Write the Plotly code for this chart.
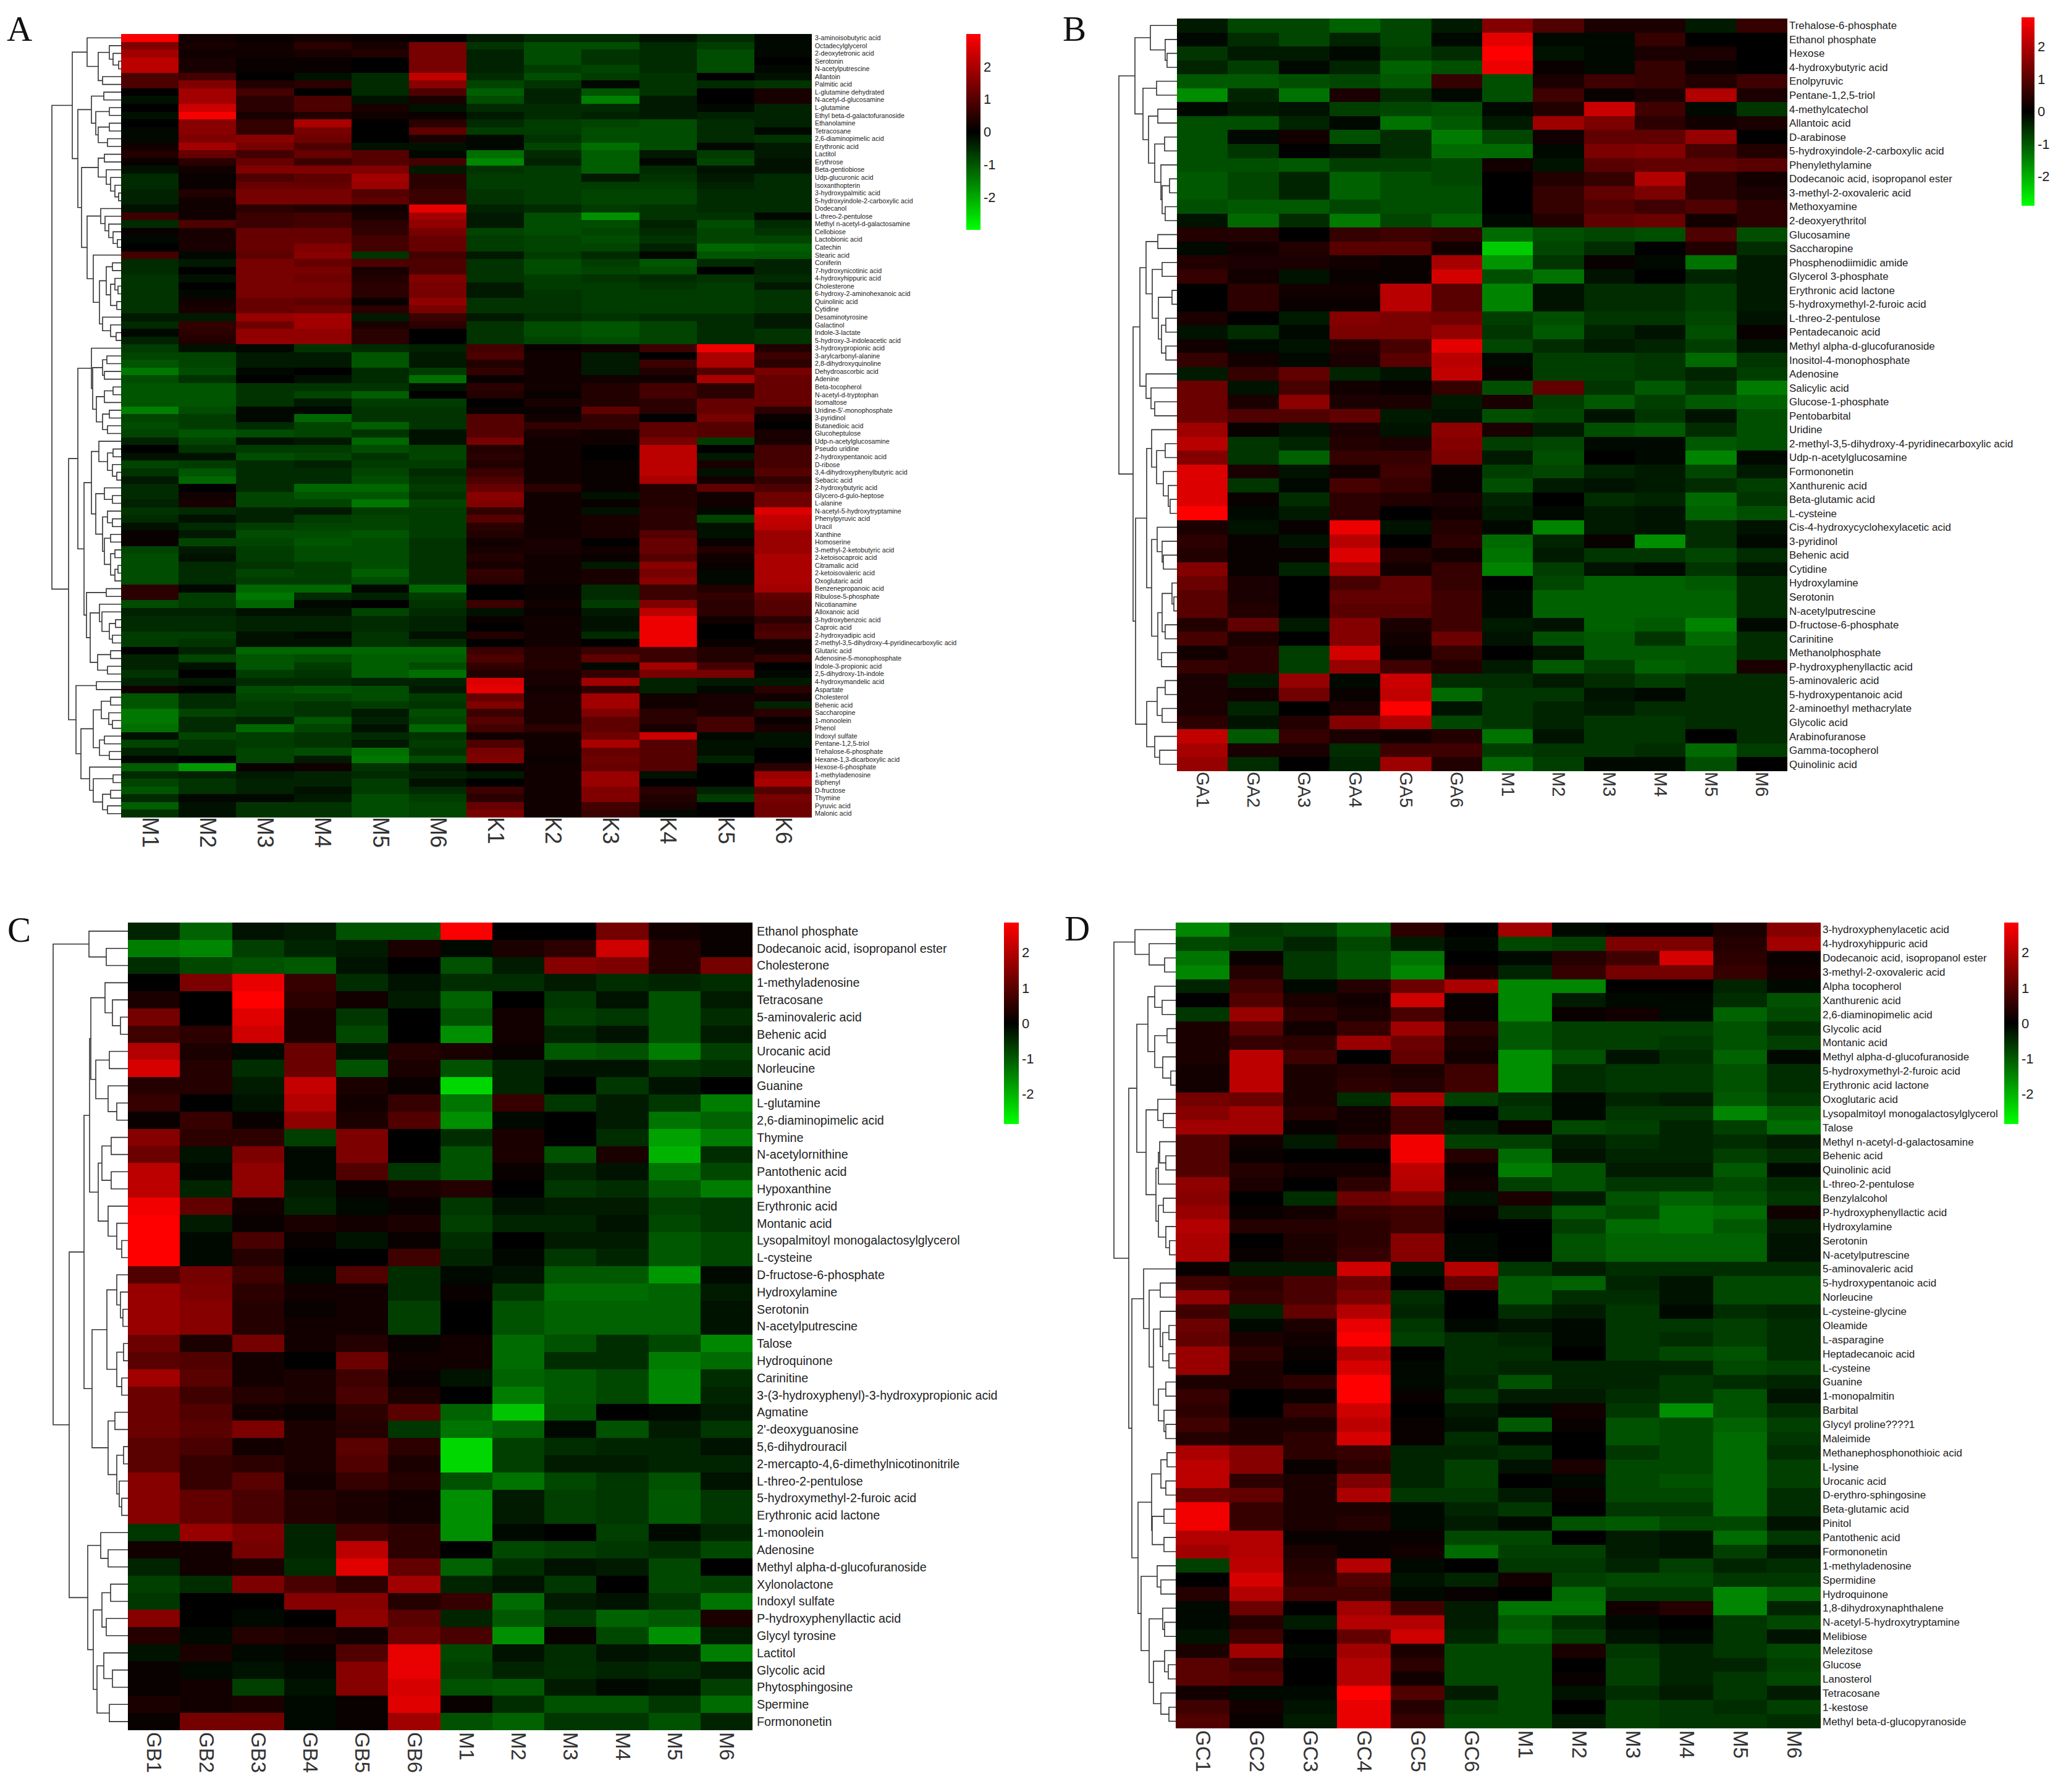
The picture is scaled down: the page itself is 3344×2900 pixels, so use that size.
import plotly.graph_objects as go

# browser body margin is 8px, so the figure is 16px smaller than the window
PAGE_W, PAGE_H = 3344, 2900
PAD = 8
W, H = PAGE_W - 2 * PAD, PAGE_H - 2 * PAD

cols_a = ["M1", "M2", "M3", "M4", "M5", "M6", "K1", "K2", "K3", "K4", "K5", "K6"]
cols_b = ["GA1", "GA2", "GA3", "GA4", "GA5", "GA6", "M1", "M2", "M3", "M4", "M5", "M6"]
cols_c = ["GB1", "GB2", "GB3", "GB4", "GB5", "GB6", "M1", "M2", "M3", "M4", "M5", "M6"]
cols_d = ["GC1", "GC2", "GC3", "GC4", "GC5", "GC6", "M1", "M2", "M3", "M4", "M5", "M6"]

labels_a = ["3-aminoisobutyric acid", "Octadecylglycerol", "2-deoxytetronic acid", "Serotonin", "N-acetylputrescine",
    "Allantoin", "Palmitic acid", "L-glutamine dehydrated", "N-acetyl-d-glucosamine", "L-glutamine",
    "Ethyl beta-d-galactofuranoside", "Ethanolamine", "Tetracosane", "2,6-diaminopimelic acid", "Erythronic acid",
    "Lactitol", "Erythrose", "Beta-gentiobiose", "Udp-glucuronic acid", "Isoxanthopterin", "3-hydroxypalmitic acid",
    "5-hydroxyindole-2-carboxylic acid", "Dodecanol", "L-threo-2-pentulose", "Methyl n-acetyl-d-galactosamine",
    "Cellobiose", "Lactobionic acid", "Catechin", "Stearic acid", "Coniferin", "7-hydroxynicotinic acid",
    "4-hydroxyhippuric acid", "Cholesterone", "6-hydroxy-2-aminohexanoic acid", "Quinolinic acid", "Cytidine",
    "Desaminotyrosine", "Galactinol", "Indole-3-lactate", "5-hydroxy-3-indoleacetic acid", "3-hydroxypropionic acid",
    "3-arylcarbonyl-alanine", "2,8-dihydroxyquinoline", "Dehydroascorbic acid", "Adenine", "Beta-tocopherol",
    "N-acetyl-d-tryptophan", "Isomaltose", "Uridine-5'-monophosphate", "3-pyridinol", "Butanedioic acid",
    "Glucoheptulose", "Udp-n-acetylglucosamine", "Pseudo uridine", "2-hydroxypentanoic acid", "D-ribose",
    "3,4-dihydroxyphenylbutyric acid", "Sebacic acid", "2-hydroxybutyric acid", "Glycero-d-gulo-heptose", "L-alanine",
    "N-acetyl-5-hydroxytryptamine", "Phenylpyruvic acid", "Uracil", "Xanthine", "Homoserine",
    "3-methyl-2-ketobutyric acid", "2-ketoisocaproic acid", "Citramalic acid", "2-ketoisovaleric acid",
    "Oxoglutaric acid", "Benzenepropanoic acid", "Ribulose-5-phosphate", "Nicotianamine", "Alloxanoic acid",
    "3-hydroxybenzoic acid", "Caproic acid", "2-hydroxyadipic acid", "2-methyl-3,5-dihydroxy-4-pyridinecarboxylic acid",
    "Glutaric acid", "Adenosine-5-monophosphate", "Indole-3-propionic acid", "2,5-dihydroxy-1h-indole",
    "4-hydroxymandelic acid", "Aspartate", "Cholesterol", "Behenic acid", "Saccharopine", "1-monoolein", "Phenol",
    "Indoxyl sulfate", "Pentane-1,2,5-triol", "Trehalose-6-phosphate", "Hexane-1,3-dicarboxylic acid",
    "Hexose-6-phosphate", "1-methyladenosine", "Biphenyl", "D-fructose", "Thymine", "Pyruvic acid", "Malonic acid"]

labels_b = ["Trehalose-6-phosphate", "Ethanol phosphate", "Hexose", "4-hydroxybutyric acid", "Enolpyruvic",
    "Pentane-1,2,5-triol", "4-methylcatechol", "Allantoic acid", "D-arabinose", "5-hydroxyindole-2-carboxylic acid",
    "Phenylethylamine", "Dodecanoic acid, isopropanol ester", "3-methyl-2-oxovaleric acid", "Methoxyamine",
    "2-deoxyerythritol", "Glucosamine", "Saccharopine", "Phosphenodiimidic amide", "Glycerol 3-phosphate",
    "Erythronic acid lactone", "5-hydroxymethyl-2-furoic acid", "L-threo-2-pentulose", "Pentadecanoic acid",
    "Methyl alpha-d-glucofuranoside", "Inositol-4-monophosphate", "Adenosine", "Salicylic acid", "Glucose-1-phosphate",
    "Pentobarbital", "Uridine", "2-methyl-3,5-dihydroxy-4-pyridinecarboxylic acid", "Udp-n-acetylglucosamine",
    "Formononetin", "Xanthurenic acid", "Beta-glutamic acid", "L-cysteine", "Cis-4-hydroxycyclohexylacetic acid",
    "3-pyridinol", "Behenic acid", "Cytidine", "Hydroxylamine", "Serotonin", "N-acetylputrescine",
    "D-fructose-6-phosphate", "Carinitine", "Methanolphosphate", "P-hydroxyphenyllactic acid", "5-aminovaleric acid",
    "5-hydroxypentanoic acid", "2-aminoethyl methacrylate", "Glycolic acid", "Arabinofuranose", "Gamma-tocopherol",
    "Quinolinic acid"]

labels_c = ["Ethanol phosphate", "Dodecanoic acid, isopropanol ester", "Cholesterone", "1-methyladenosine", "Tetracosane",
    "5-aminovaleric acid", "Behenic acid", "Urocanic acid", "Norleucine", "Guanine", "L-glutamine",
    "2,6-diaminopimelic acid", "Thymine", "N-acetylornithine", "Pantothenic acid", "Hypoxanthine", "Erythronic acid",
    "Montanic acid", "Lysopalmitoyl monogalactosylglycerol", "L-cysteine", "D-fructose-6-phosphate", "Hydroxylamine",
    "Serotonin", "N-acetylputrescine", "Talose", "Hydroquinone", "Carinitine",
    "3-(3-hydroxyphenyl)-3-hydroxypropionic acid", "Agmatine", "2'-deoxyguanosine", "5,6-dihydrouracil",
    "2-mercapto-4,6-dimethylnicotinonitrile", "L-threo-2-pentulose", "5-hydroxymethyl-2-furoic acid",
    "Erythronic acid lactone", "1-monoolein", "Adenosine", "Methyl alpha-d-glucofuranoside", "Xylonolactone",
    "Indoxyl sulfate", "P-hydroxyphenyllactic acid", "Glycyl tyrosine", "Lactitol", "Glycolic acid", "Phytosphingosine",
    "Spermine", "Formononetin"]

labels_d = ["3-hydroxyphenylacetic acid", "4-hydroxyhippuric acid", "Dodecanoic acid, isopropanol ester",
    "3-methyl-2-oxovaleric acid", "Alpha tocopherol", "Xanthurenic acid", "2,6-diaminopimelic acid", "Glycolic acid",
    "Montanic acid", "Methyl alpha-d-glucofuranoside", "5-hydroxymethyl-2-furoic acid", "Erythronic acid lactone",
    "Oxoglutaric acid", "Lysopalmitoyl monogalactosylglycerol", "Talose", "Methyl n-acetyl-d-galactosamine",
    "Behenic acid", "Quinolinic acid", "L-threo-2-pentulose", "Benzylalcohol", "P-hydroxyphenyllactic acid",
    "Hydroxylamine", "Serotonin", "N-acetylputrescine", "5-aminovaleric acid", "5-hydroxypentanoic acid", "Norleucine",
    "L-cysteine-glycine", "Oleamide", "L-asparagine", "Heptadecanoic acid", "L-cysteine", "Guanine", "1-monopalmitin",
    "Barbital", "Glycyl proline????1", "Maleimide", "Methanephosphonothioic acid", "L-lysine", "Urocanic acid",
    "D-erythro-sphingosine", "Beta-glutamic acid", "Pinitol", "Pantothenic acid", "Formononetin", "1-methyladenosine",
    "Spermidine", "Hydroquinone", "1,8-dihydroxynaphthalene", "N-acetyl-5-hydroxytryptamine", "Melibiose", "Melezitose",
    "Glucose", "Lanosterol", "Tetracosane", "1-kestose", "Methyl beta-d-glucopyranoside"]

# cell values in tenths of the colour scale, read row by row
values_a = [
[29,2,1,2,1,0,-3,-5,-5,-2,-5,-1],[15,3,2,5,3,14,-6,-9,-9,-5,-7,-1],[19,2,2,3,4,14,-4,-9,-6,-5,-9,-1],
[22,3,1,1,0,14,-4,-9,-6,-5,-9,0],[22,3,1,1,0,14,-4,-7,-8,-5,-9,-1],[9,8,0,-2,-5,23,-5,-9,-7,-6,0,-2],
[9,15,4,5,-5,16,-8,-6,-1,-6,-5,-6],[0,19,8,0,-5,9,-11,-4,-10,-6,0,3],[-2,19,5,9,-2,3,-9,-4,-15,-3,0,3],
[0,24,5,9,3,-2,-5,-5,-5,-3,-1,-4],[-2,29,3,4,2,1,-3,-5,-4,-3,-4,-4],[0,16,6,20,0,5,-5,-7,-8,-9,-5,-4],
[-1,16,6,14,0,11,-7,-7,-9,-9,-5,-1],[-1,15,16,13,0,3,-1,-6,-9,-9,-5,-6],[2,19,14,9,-2,-2,-1,-8,-13,-9,-1,-3],
[4,12,8,12,10,-1,-13,-5,-11,-3,-7,-3],[1,5,12,7,10,8,-16,-4,-11,-1,-8,-2],[-2,2,15,15,15,-3,-6,-7,-11,-5,-2,-2],
[-5,1,9,11,19,5,-7,-7,-3,-6,-3,-5],[-5,1,12,12,18,5,-7,-7,-7,-7,-4,-5],[-4,4,14,14,10,7,-6,-7,-8,-8,-5,-5],
[-4,2,14,14,11,7,-6,-7,-8,-8,-5,-5],[-2,2,5,4,2,27,-4,-5,-7,-6,-5,-5],[7,2,7,8,3,19,-3,-9,-17,-6,-6,-1],
[-5,9,7,8,5,17,-3,-9,-9,-4,-9,-5],[1,3,12,12,6,14,-8,-9,-8,-5,-8,-6],[-1,3,12,12,8,12,-7,-8,-9,-6,-8,-8],
[0,3,12,15,8,12,-7,-8,-8,-4,-12,-11],[8,-1,11,16,-6,8,-3,-7,-5,-1,-10,-10],[-5,-3,14,12,9,9,-6,-9,-7,-10,-5,-4],
[-5,0,14,14,3,9,-6,-9,-8,-9,0,-4],[-6,-2,14,13,4,15,-6,-7,-6,-5,-6,-5],[-6,0,14,14,5,14,-3,-7,-7,-6,-7,-3],
[-6,-1,14,14,5,14,-3,-6,-7,-7,-7,-6],[-6,2,12,11,1,17,-6,-6,-7,-7,-7,-6],[-6,3,12,13,5,14,-6,-6,-7,-7,-7,-6],
[-3,-3,18,19,-3,7,-3,-5,-6,-5,-5,-3],[-5,6,13,19,3,5,-6,-9,-10,-8,-5,-3],[-1,5,17,17,5,0,-6,-9,-10,-8,-5,-6],
[-4,4,17,17,5,0,-6,-8,-9,-8,-5,-6],[-7,-2,-1,-6,-5,-4,8,1,2,7,28,4],[-8,-8,-3,-3,-10,-3,9,2,-3,0,20,7],
[-10,-8,-3,-3,-10,-3,4,2,-3,7,20,5],[-14,-9,-1,0,-5,-7,6,2,-3,4,10,14],[-9,-6,0,-2,-5,-13,1,2,2,2,20,12],
[-10,-10,-6,-6,-6,-2,5,2,4,8,5,12],[-10,-10,-6,-8,-11,0,4,1,4,8,5,12],[-10,-10,-6,-3,-7,-7,0,3,4,5,12,12],
[-15,-9,-1,-1,-6,-6,1,1,11,5,12,5],[-8,-7,-1,-12,-6,-6,10,2,6,0,14,1],[-9,-7,-5,-8,-11,-6,10,6,6,11,10,0],
[-8,-10,-9,-8,-6,-2,10,3,2,11,10,3],[-4,-8,-2,-3,-12,-2,14,2,2,14,-7,3],[0,-6,-7,-7,-9,-8,4,2,0,22,0,8],
[-2,-2,-9,-8,-6,-8,5,2,0,22,-3,8],[-8,-7,-5,-4,-7,-7,4,2,1,22,3,8],[-6,-10,-5,-5,-8,-5,7,2,1,22,-2,10],
[-3,-12,-5,-5,-9,-6,9,2,1,20,2,6],[-5,0,-5,-12,-12,-7,12,5,1,4,11,9],[-5,2,-8,-10,-10,-6,16,2,-2,4,2,13],
[-4,3,-8,-8,-14,-8,15,2,1,4,2,13],[-6,-5,-4,-3,-7,-7,6,2,-2,5,-1,26],[-5,-2,-4,-7,-8,-7,10,2,3,5,-8,23],
[-2,-5,-7,-8,-8,-7,5,2,3,5,-2,22],[1,-3,-9,-9,-10,-7,4,2,3,10,-2,18],[1,-8,-8,-10,-9,-6,2,3,0,12,1,18],
[-8,-3,-7,-9,-9,-6,3,3,2,12,4,18],[-9,-2,-7,-9,-9,-6,4,2,1,10,2,20],[-9,-5,-6,-7,-9,-6,3,2,-3,16,1,20],
[-9,-5,-8,-7,-11,-6,6,2,3,14,-1,20],[-9,-5,-7,-7,-9,-6,5,2,3,16,-1,20],[5,-1,-12,-12,-1,-12,0,1,-5,7,4,19],
[5,-7,-14,-5,-4,-7,0,1,-5,7,6,11],[-9,-7,-12,-1,0,-6,7,2,-7,15,5,10],[-4,-4,-2,-2,-8,-5,-2,1,-3,22,5,10],
[-5,-5,-4,-4,-5,-4,1,2,-2,28,2,5],[-5,-5,-4,-4,-5,-4,0,2,-2,28,0,8],[-7,-7,-2,-1,-6,-2,4,2,-5,28,0,9],
[-7,-6,-2,-2,-6,-5,0,2,0,28,1,2],[0,-4,-12,-12,-12,-12,7,4,7,7,4,2],[-4,-8,-10,-9,-11,-11,9,4,11,7,4,6],
[-4,-2,-10,-7,-11,-9,6,4,-1,19,8,0],[-6,0,-7,-6,-11,-13,4,3,6,14,14,-1],[-4,-3,-5,-5,-4,-4,26,3,19,-4,-3,-3],
[2,0,-9,-10,-9,-3,27,2,5,-4,-1,5],[-10,-5,-8,-8,-9,-7,12,3,19,2,3,2],[-10,-5,-7,-6,-7,-6,15,3,19,2,3,-4],
[-14,-8,-7,-6,-3,-9,7,3,15,5,3,5],[-14,-5,-4,-10,-4,-8,10,3,11,5,8,1],[-13,-5,-12,-8,-2,-12,8,5,11,3,8,3],
[-2,-8,-7,-6,-5,-6,2,2,13,24,-1,-2],[-8,-6,-7,-6,-3,-7,9,2,20,10,-2,-2],[-4,-6,-8,-9,-13,-6,14,2,12,10,-2,0],
[-1,0,-8,-3,-14,-9,15,1,13,10,-4,0],[-11,-18,1,2,-6,-3,1,2,12,10,0,5],[-5,-4,-3,-4,-5,-4,-3,2,18,-2,0,18],
[-8,-6,-4,-4,-7,-2,0,2,18,0,0,20],[-10,-6,-4,-2,-7,-5,7,2,15,5,-4,10],[-5,-1,-1,-3,-9,-7,5,2,15,4,-7,14],
[-11,-2,-6,-6,-9,-8,12,2,8,3,0,13],[-6,-2,-6,-6,-9,-8,14,2,7,-1,0,13]]

values_b = [
[-3,-8,-8,-11,-8,-3,15,9,3,3,-3,6],[-1,-5,-8,-4,-8,-1,26,-1,-1,6,0,0],[-6,-3,-3,-1,-7,-5,29,-2,-1,3,3,0],
[-4,-7,-1,-4,-11,-9,27,1,-1,6,1,0],[-10,-10,-9,-8,-10,6,-9,3,7,6,4,7],[-16,-4,-13,3,-5,-1,-9,7,1,3,20,3],
[-1,-3,-2,-7,-8,-9,-1,4,23,7,-1,-6],[-9,-9,-4,-1,-13,-10,-3,18,14,5,2,3],[-9,-1,2,-9,-5,-14,-8,2,11,11,17,0],
[-9,-6,0,-2,-5,-12,-12,-1,14,15,8,4],[-9,-9,-10,-7,-7,-8,2,-2,10,11,11,10],[-10,-8,-4,-11,-9,-8,0,4,6,20,5,2],
[-10,-8,-4,-11,-9,-9,0,6,11,14,5,3],[-9,-10,-10,-8,-9,-9,0,6,9,7,9,5],[-2,-12,-5,-14,-8,-11,-1,4,11,12,2,5],
[4,4,0,6,7,6,-12,-9,-8,-9,9,-9],[-1,2,4,10,10,2,-23,-8,-5,0,4,-5],[4,3,3,2,1,19,-17,-6,1,-1,-13,-3],
[6,2,-2,1,1,24,-9,-13,-2,0,-4,-3],[0,5,2,2,21,10,-15,-2,-5,-5,-7,-3],[0,5,1,1,21,10,-15,-2,-5,-5,-7,-3],
[3,0,-3,15,14,13,-7,-9,-6,-6,-8,-2],[-2,-5,-1,14,14,17,-6,-10,-4,-2,-9,1],[2,-1,-2,4,8,26,-8,-5,-3,-4,-7,-2],
[6,2,-1,3,10,21,-1,-7,-7,-6,-12,-6],[-3,6,11,-4,-2,22,1,-7,-7,-6,-4,-7],[12,-2,8,2,1,6,-9,11,-6,-10,-6,-14],
[12,3,16,3,3,-3,3,-7,-10,-7,-10,-11],[12,9,9,11,-3,-2,-9,-8,-2,-6,-2,-9],[18,1,-2,3,-2,16,3,-3,-9,-10,-5,-9],
[21,-6,-4,4,3,15,-7,-8,-1,-1,-10,-9],[15,-6,-11,6,6,14,-3,-9,0,-1,-15,-1],[25,3,-2,2,7,1,-7,-8,-4,-3,-8,-3],
[25,-6,-1,8,6,1,-9,-3,-2,-3,-5,-7],[25,1,-5,5,4,3,-4,0,-5,-4,-12,-6],[29,-1,-3,5,0,2,-3,-1,-3,-2,-11,-9],
[3,-2,1,27,-2,4,-1,-15,-3,-2,-5,-2],[5,1,-2,21,0,5,-12,-4,1,-16,-5,-1],[4,1,1,25,4,2,-13,-3,-6,-6,-8,-5],
[15,1,-4,19,2,6,-15,-7,-2,-1,-6,-2],[12,3,0,8,11,6,0,-8,-11,-11,-10,-5],[10,3,0,11,11,7,-1,-11,-11,-11,-11,-5],
[10,4,0,10,10,7,-1,-11,-11,-11,-11,-5],[4,11,-3,15,3,7,-3,-2,-11,-10,-15,-1],[8,3,0,15,2,12,-2,-9,-10,-6,-12,-5],
[2,5,-7,24,1,6,0,-2,-10,-10,-10,-5],[6,5,-7,17,7,4,-3,-10,-7,-11,-10,3],[3,-3,17,-1,23,-5,-5,-3,-5,-7,-5,-5],
[3,2,13,1,22,-12,-6,-6,-2,-1,-5,-5],[3,-4,0,3,29,-2,-6,-4,-3,-5,-5,-5],[5,-2,4,15,20,-8,-6,-4,-6,-6,-5,-5],
[22,-10,6,3,2,4,-13,-2,-6,-6,0,-5],[19,3,3,-5,7,7,-7,-6,-6,-5,-12,-7],[17,-5,0,-4,18,4,-12,-7,-1,-1,-9,0]]

values_c = [
[-4,-11,-2,-3,-9,-9,28,0,0,13,2,1],[-14,-15,-7,-4,-3,3,-1,3,5,23,4,1],[-5,-8,-9,-10,-2,0,-9,-3,15,14,4,13],
[0,14,26,6,-5,-2,-5,-5,-3,-5,-4,-5],[3,0,29,5,2,-3,-11,0,-6,-2,-9,-3],[13,0,25,3,-6,0,-9,2,-7,-6,-9,-5],
[7,5,23,3,-8,0,-16,2,-4,-2,-9,-3],[20,3,-1,12,-2,4,3,1,-10,-9,-14,-7],[24,4,-5,12,-9,3,-9,-4,-2,-2,-6,-5],
[4,4,-3,22,3,1,-24,-4,0,-6,-2,0],[6,0,-2,20,2,6,-13,6,-6,-3,-6,-14],[1,6,1,16,3,9,-16,-1,0,-3,-13,-11],
[15,5,5,-7,14,0,-5,3,0,-5,-18,-14],[12,-2,14,-1,14,0,-9,3,-9,3,-20,-5],[21,-1,16,-1,9,-6,-9,1,-4,-2,-13,-8],
[21,-4,16,-3,1,3,4,0,-6,-5,-10,-14],[27,11,2,-4,-1,1,-6,-2,-3,-3,-7,-6],[29,-3,1,3,2,3,-7,-4,-4,-2,-8,-6],
[29,-1,8,1,-2,1,-5,0,-3,-3,-10,-8],[29,-1,4,0,0,7,-4,-1,-6,-4,-10,-8],[9,13,7,-1,9,-5,-1,-2,-10,-10,-17,-1],
[17,14,5,2,2,-5,1,-6,-12,-12,-11,-3],[17,15,4,1,2,-7,0,-9,-11,-11,-11,-2],[17,15,4,2,2,-7,0,-9,-11,-11,-11,-2],
[12,3,13,2,4,1,2,-12,-9,-5,-8,-15],[10,9,2,0,12,2,2,-12,-5,-5,-14,-12],[18,10,2,3,7,1,-2,-11,-10,-8,-15,-5],
[12,7,4,3,8,3,0,-14,-10,-8,-15,-4],[12,9,2,1,5,10,-11,-22,-9,0,-1,-3],[12,10,14,3,4,-6,-13,-11,-1,-9,-3,-6],
[10,8,2,3,10,5,-24,-7,-5,-4,-4,-2],[10,6,5,3,9,3,-24,-7,-3,-3,-4,-4],[15,6,10,2,6,4,-9,-13,-8,-6,-9,-2],
[15,11,8,4,3,2,-16,-3,-7,-6,-10,-6],[15,11,8,4,3,2,-16,-3,-7,-6,-10,-6],[-6,17,14,-4,7,5,-16,-1,0,-7,-1,-4],
[2,2,13,-4,21,5,0,-8,-7,-6,-5,-8],[-4,2,3,-5,25,11,-11,-5,-2,-3,-8,0],[-7,-5,14,8,5,18,-4,-2,-6,0,-8,-7],
[-6,0,0,15,15,4,6,-12,-3,-2,-6,-13],[15,0,-1,0,16,10,-4,-10,-6,-11,-10,3],[4,-1,4,3,2,12,8,-16,1,-8,-16,-3],
[-2,3,-1,1,9,26,-8,-2,-5,-2,-3,-14],[1,-1,-2,-1,15,26,-7,-4,-5,-4,-5,-3],[1,2,-7,-2,15,24,-9,-10,-3,-1,-2,-7],
[3,2,3,-1,1,25,1,-5,-9,-9,-6,-12],[1,13,13,-1,1,18,-9,-11,-6,-6,-9,-4]]

values_d = [
[-15,-6,-7,-11,5,0,18,-1,0,0,3,15],[-8,-7,-4,-8,-3,-1,-8,-7,14,14,4,18],[-13,1,-6,-9,-13,0,-1,4,7,24,5,1],
[-15,4,-6,-9,-15,2,-4,6,13,13,6,2],[-4,7,-1,4,12,19,-15,-15,0,0,-4,-1],[0,9,3,2,23,1,-15,-3,-1,-1,-5,-9],
[-6,17,5,3,8,1,-15,1,2,-1,-11,-8],[3,10,2,6,18,5,-10,-7,-7,-7,-9,-5],[3,6,5,17,12,3,-10,-7,-7,-6,-9,-7],
[3,21,7,0,11,2,-16,-9,-2,-5,-11,-1],[2,21,3,4,3,7,-16,-5,-6,-6,-9,-5],[2,21,3,5,4,7,-16,-5,-6,-6,-9,-5],
[13,12,3,-5,19,-7,-5,-1,-4,-3,-10,-6],[15,18,4,2,7,0,-6,-1,-6,-6,-15,-10],[18,18,1,2,7,-3,1,-8,-7,-4,-7,-12],
[9,2,-3,5,27,-7,-7,-3,-5,-4,-5,-3],[9,1,0,0,27,4,-12,-2,-4,-4,-7,-5],[9,4,2,2,21,1,-14,-9,-3,-3,-10,-1],
[16,3,0,5,20,2,-7,-9,-6,-6,-8,-5],[15,0,-5,12,14,-2,3,-3,-9,-11,-9,-6],[17,1,2,6,7,1,-4,-10,-8,-13,-12,2],
[20,4,4,5,7,0,0,-7,-12,-13,-10,-3],[19,0,3,5,15,-1,0,-9,-11,-11,-11,-2],[19,1,3,6,15,-1,0,-9,-11,-11,-11,-2],
[1,-3,-3,23,-2,20,-6,-3,-5,-5,-5,-5],[7,5,8,12,0,11,-10,-11,-4,-2,-8,-8],[16,6,8,14,-5,0,-10,-5,-5,-2,-8,-8],
[7,-4,11,20,-4,0,-5,-3,-6,-1,-5,-4],[12,-1,3,26,-6,-1,-2,-1,-6,-6,-7,-5],[11,3,2,28,-7,-5,-4,-1,-6,-5,-7,-5],
[17,5,1,20,0,-5,-5,0,-6,-8,-9,-5],[17,3,0,24,-1,-5,-4,-4,-4,-4,-8,-7],[3,3,5,29,-1,-4,-9,-4,-4,-6,-5,-4],
[6,0,1,29,1,-6,-3,-3,-5,-6,-9,-2],[5,0,6,23,0,-3,-1,2,-6,-16,-9,-5],[7,3,3,21,1,-2,-10,1,-9,-8,-11,-7],
[4,3,5,24,1,-5,-1,0,-9,-8,-12,-6],[19,15,5,6,-4,-4,-5,0,-6,-8,-12,-5],[21,15,1,5,-4,-7,-2,3,-8,-8,-12,-7],
[21,5,3,14,-4,-7,0,-1,-8,-9,-12,-7],[12,11,3,19,-6,-6,-3,1,-8,-8,-12,-5],[27,6,3,3,-1,-4,-6,0,-6,-6,-12,-5],
[27,6,3,4,-1,-3,-1,-9,-10,-8,-8,-2],[20,20,1,1,1,-8,-8,0,-3,-2,-12,-6],[18,20,3,1,2,-12,-7,-7,-3,-2,-7,-2],
[-7,21,4,20,-1,0,-6,-6,-4,-7,-4,-5],[0,24,5,9,-2,-4,2,-7,-8,-8,-6,-6],[4,20,7,7,-1,1,0,-12,-6,-6,-15,-11],
[-1,12,0,18,7,-3,-13,-13,2,4,-15,-4],[-1,4,-3,20,20,-3,-10,-5,-1,0,-6,-8],[-2,7,0,11,23,-4,-11,-7,-2,-1,-6,-2],
[3,18,-1,18,3,-8,-8,3,-6,-4,-6,-8],[10,7,0,20,5,-8,-8,0,-7,-4,-4,-7],[10,9,0,20,2,-8,-8,1,-7,-4,-6,-8],
[2,-1,-1,29,9,-3,-8,-2,-5,-3,-6,-3],[7,2,-2,26,4,-7,-8,0,-7,-6,-5,-7],[9,1,-3,26,6,-8,-8,-3,-7,-6,-6,-5]]

# dendrogram: merge height between each pair of neighbouring rows
merges_a = [55,19,13,4,37,30,79,28,48,19,41,19,37,22,70,27,37,24,17,10,4,64,33,26,20,13,6,55,45,14,24,10,5,17,7,35,30,17,8,112,
    48,23,30,27,46,13,27,40,19,30,22,70,36,13,22,14,7,48,27,14,41,22,14,30,17,27,10,17,5,10,60,
    24,56,35,31,9,19,14,50,17,38,22,85,40,73,17,32,20,14,45,27,35,19,65,51,13,45,17,30,22]
merges_b = [43,19,16,68,33,55,31,46,20,36,26,12,24,19,94,31,50,24,40,8,30,18,25,18,60,50,42,36,71,
    41,19,33,22,14,11,49,32,24,22,41,8,5,24,19,31,25,67,19,32,24,49,36,28]
merges_c = [63,35,121,37,25,12,60,30,52,32,18,62,27,42,27,48,32,18,10,71,18,12,8,34,7,18,10,58,21,32,7,18,14,10,95,
    44,32,65,28,42,35,56,39,25,50,30]
merges_d = [66,43,18,100,34,22,45,14,34,21,8,63,29,20,48,26,16,28,32,20,28,16,10,76,52,25,43,25,11,21,11,36,16,28,19,16,71,
    14,24,16,39,19,38,19,61,30,24,56,21,18,43,18,12,36,24,11]

colorbar_ticks = [-2, -1, 0, 1, 2]
scale = [[0, "#00ff00"], [0.5, "#000000"], [1, "#ff0000"]]

panels = [
    dict(name="A", cols=cols_a, labels=labels_a, values=values_a, merges=merges_a, box=(196, 55, 1314, 1323),
         label_size=10.7, label_gap=4, col_size=36, col_gap=-2, zmax=3.0, bar=(1564, 55, 23, 317), letter=(31, 47)),
    dict(name="B", cols=cols_b, labels=labels_b, values=values_b, merges=merges_b, box=(1905, 30, 2893, 1248),
         label_size=16.9, label_gap=2, col_size=29, col_gap=0, zmax=2.9, bar=(3272, 28, 21, 305), letter=(1739, 47)),
    dict(name="C", cols=cols_c, labels=labels_c, values=values_c, merges=merges_c, box=(207, 1493, 1218, 2800),
         label_size=19.7, label_gap=6, col_size=33, col_gap=2, zmax=2.85, bar=(1625, 1493, 24, 326), letter=(31, 1504)),
    dict(name="D", cols=cols_d, labels=labels_d, values=values_d, merges=merges_d, box=(1903, 1493, 2947, 2797),
         label_size=17, label_gap=2, col_size=33, col_gap=2, zmax=2.85, bar=(3244, 1493, 23, 326), letter=(1743, 1502)),
]


def px_x(x):
    return (x - PAD) / W


def px_y(y):
    return 1 - (y - PAD) / H


def tree_lines(heights):
    xs, ys = [], []

    def walk(lo, hi):
        if lo == hi:
            return lo, 0
        cut = max(range(lo, hi), key=lambda i: heights[i])
        ly, lh = walk(lo, cut)
        ry, rh = walk(cut + 1, hi)
        top = heights[cut]
        xs.extend([-lh, -top, -top, -rh, None])
        ys.extend([ly, ly, ry, ry, None])
        return (ly + ry) / 2, top

    walk(0, len(heights))
    return xs, ys


fig = go.Figure()
layout_axes = {}

for i, p in enumerate(panels):
    heat_x = "x" if i == 0 else f"x{2 * i + 1}"
    heat_y = "y" if i == 0 else f"y{i + 1}"
    tree_x = f"x{2 * i + 2}"
    left, top, right, bottom = p["box"]
    n_rows = len(p["labels"])
    bar_x, bar_y, bar_w, bar_h = p["bar"]

    fig.add_trace(go.Heatmap(
        z=[[v / 10 for v in row] for row in p["values"]],
        x=list(range(12)), y=list(range(n_rows)),
        colorscale=scale, zmin=-p["zmax"], zmax=p["zmax"], hoverinfo="skip",
        xaxis=heat_x, yaxis=heat_y,
        colorbar=dict(x=px_x(bar_x), xanchor="left", y=px_y(bar_y), yanchor="top",
                      len=bar_h, lenmode="pixels", thickness=bar_w, thicknessmode="pixels",
                      xpad=0, ypad=0, outlinewidth=0, ticks="", tickmode="array",
                      tickvals=colorbar_ticks, ticktext=[str(t) for t in colorbar_ticks],
                      tickfont=dict(family="Liberation Sans", size=22, color="#222222")),
    ))
    xs, ys = tree_lines(p["merges"])
    fig.add_trace(go.Scatter(x=xs, y=ys, mode="lines", line=dict(color="#333333", width=1.6),
                             hoverinfo="skip", showlegend=False, xaxis=tree_x, yaxis=heat_y))

    max_h = max(p["merges"])
    layout_axes["xaxis" if i == 0 else f"xaxis{2 * i + 1}"] = dict(
        domain=[px_x(left), px_x(right)], anchor=heat_y, range=[-0.5, 11.5], tickmode="array",
        tickvals=list(range(12)), ticktext=p["cols"], tickangle=90, ticks="", ticklabelstandoff=p["col_gap"],
        showgrid=False, zeroline=False, showline=False,
        tickfont=dict(family="Liberation Sans", size=p["col_size"], color="#333333"))
    layout_axes["yaxis" if i == 0 else f"yaxis{i + 1}"] = dict(
        domain=[px_y(bottom), px_y(top)], anchor=heat_x, side="right", range=[n_rows - 0.5, -0.5],
        tickmode="array", tickvals=list(range(n_rows)), ticktext=p["labels"], ticks="",
        ticklabelstandoff=p["label_gap"], showgrid=False, zeroline=False, showline=False,
        tickfont=dict(family="Liberation Sans", size=p["label_size"], color="#222222"))
    layout_axes[f"xaxis{2 * i + 2}"] = dict(
        domain=[px_x(left - max_h - 1), px_x(left)], anchor=heat_y, range=[-max_h - 1, 0], visible=False,
        showgrid=False, zeroline=False)

annotations = [dict(text=p["name"], x=px_x(p["letter"][0]), y=px_y(p["letter"][1]), xref="paper", yref="paper",
                    xanchor="center", yanchor="middle", showarrow=False,
                    font=dict(family="Liberation Serif", size=57, color="#111111"))
               for p in panels]

fig.update_layout(width=W, height=H, margin=dict(l=0, r=0, t=0, b=0), autosize=False, showlegend=False,
                  plot_bgcolor="white", paper_bgcolor="white", annotations=annotations, **layout_axes)

fig.write_html("out.html")
